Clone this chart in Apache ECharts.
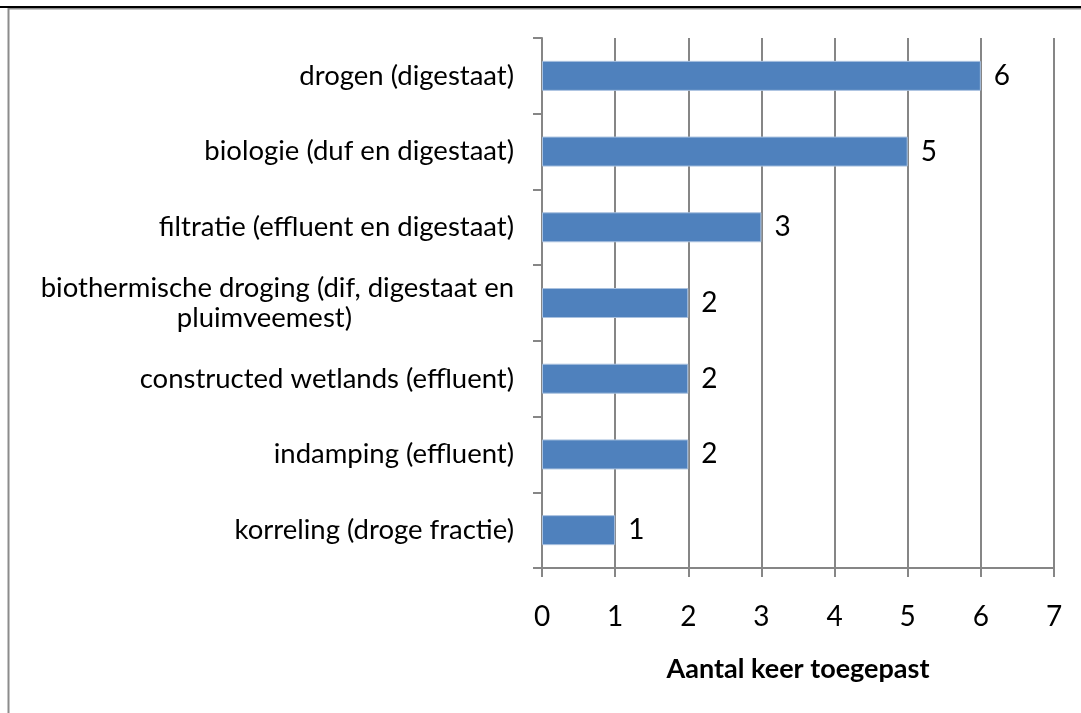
<!DOCTYPE html>
<html>
<head>
<meta charset="utf-8">
<script src="https://cdn.jsdelivr.net/npm/echarts@6/dist/echarts.min.js"></script>
<style>
  html, body { margin: 0; padding: 0; background: #fff; }
  #chart { width: 1081px; height: 713px; }
</style>
</head>
<body>
<div id="chart"></div>
<script>
// categories from bottom to top (echarts draws category axis bottom-up)
var categories = [
  'korreling (droge fractie)',
  'indamping (effluent)',
  'constructed wetlands (effluent)',
  'biothermische droging (dif, digestaat en\npluimveemest)',
  'filtratie (effluent en digestaat)',
  'biologie (duf en digestaat)',
  'drogen (digestaat)'
];
var counts = [1, 2, 2, 2, 3, 5, 6];
var xTicks = [0, 1, 2, 3, 4, 5, 6, 7];

var chartDom = document.getElementById('chart');
var myChart = echarts.init(chartDom, null, { renderer: 'canvas' });

var font = 'Lato, "Open Sans", sans-serif';
var grey = '#868686';

var option = {
  animation: false,
  backgroundColor: '#ffffff',
  textStyle: { fontFamily: font },
  graphic: [
    {
      type: 'rect',
      shape: { x: 8.5, y: 8.5, width: 1100, height: 800 },
      style: { fill: 'none', stroke: '#8c8c8c', lineWidth: 2 },
      silent: true
    },
    {
      type: 'line',
      shape: { x1: 0, y1: 7, x2: 1081, y2: 7 },
      style: { stroke: '#000', lineWidth: 2 },
      silent: true
    }
  ],
  grid: {
    left: 542,
    right: 27,
    top: 38,
    bottom: 145,
    containLabel: false
  },
  xAxis: {
    type: 'value',
    min: xTicks[0],
    max: xTicks[xTicks.length - 1],
    interval: 1,
    name: 'Aantal keer toegepast',
    nameLocation: 'middle',
    nameGap: 88,
    nameTextStyle: { fontSize: 27, fontWeight: 'bold', color: '#000', fontFamily: font },
    axisLine: { show: true, lineStyle: { color: grey, width: 2 } },
    axisTick: { show: true, length: 9, lineStyle: { color: grey, width: 2 } },
    axisLabel: { fontSize: 28, color: '#000', margin: 35, fontFamily: font },
    splitLine: { show: true, lineStyle: { color: grey, width: 2 } }
  },
  yAxis: {
    type: 'category',
    data: categories,
    axisLine: { show: true, lineStyle: { color: grey, width: 2 } },
    axisTick: { show: true, length: 9, lineStyle: { color: grey, width: 2 } },
    axisLabel: {
      fontSize: 27.5,
      color: '#000',
      margin: 28,
      lineHeight: 30,
      fontFamily: font,
      formatter: function (v) {
        if (v.indexOf('\n') < 0) return v;
        // second line sits centred under the first, like the original
        var parts = v.split('\n');
        return '{c|' + parts[0] + '}\n{p|' + parts[1] + '}';
      },
      rich: {
        c: { fontSize: 27.5, lineHeight: 30, color: '#000', fontFamily: font },
        p: { fontSize: 27.5, lineHeight: 30, color: '#000', fontFamily: font, padding: [0, 162, 0, 0] }
      }
    },
    splitLine: { show: false }
  },
  series: [
    {
      type: 'bar',
      data: counts,
      barWidth: 30,
      itemStyle: { color: '#4F81BD', borderColor: '#A9C1DF', borderWidth: 1 },
      label: {
        show: true,
        position: 'right',
        distance: 13,
        fontSize: 28,
        color: '#000',
        fontFamily: font
      }
    }
  ]
};

option && myChart.setOption(option);
</script>
</body>
</html>
